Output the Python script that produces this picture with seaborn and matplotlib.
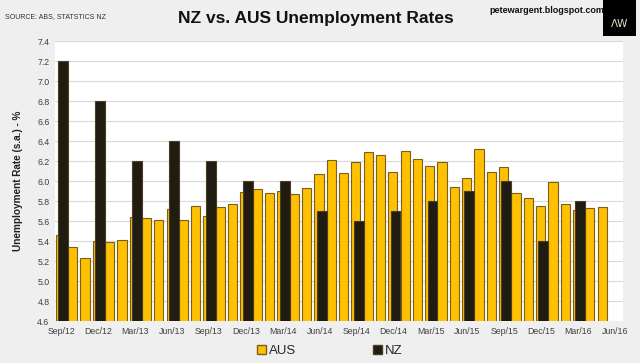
import numpy as np
import pandas as pd
import matplotlib
matplotlib.use("Agg")
import matplotlib.pyplot as plt
from matplotlib.patches import Patch, Rectangle
import seaborn as sns

# monthly AUS rate, Sep/12 .. May/16
aus_rates = [5.46, 5.34, 5.23, 5.40,
             5.39, 5.41, 5.64, 5.63, 5.61, 5.72, 5.61, 5.75, 5.65, 5.74, 5.77, 5.89,
             5.92, 5.88, 5.90, 5.87, 5.93, 6.07, 6.21, 6.08, 6.19, 6.29, 6.26, 6.09,
             6.30, 6.22, 6.15, 6.19, 5.94, 6.03, 6.32, 6.09, 6.14, 5.88, 5.83, 5.75,
             5.99, 5.77, 5.71, 5.73, 5.74]
# quarterly NZ rate, Sep/12 .. Mar/16
nz_rates = [7.2, 6.8, 6.2, 6.4, 6.2, 6.0, 6.0, 5.7, 5.6, 5.7, 5.8, 5.9, 6.0, 5.4, 5.8]
tick_labels = ["Sep/12", "Dec/12", "Mar/13", "Jun/13", "Sep/13", "Dec/13", "Mar/14",
               "Jun/14", "Sep/14", "Dec/14", "Mar/15", "Jun/15", "Sep/15", "Dec/15",
               "Mar/16", "Jun/16"]
y_ticks = np.arange(4.6, 7.41, 0.2)

AUS_COL = "#FFC000"
NZ_COL = "#201c12"
BG = "#efefef"
FONT = ["Liberation Sans Narrow", "Liberation Sans", "DejaVu Sans"]

aus = pd.DataFrame({"month": np.arange(len(aus_rates)) + 0.43, "rate": aus_rates})
nz = pd.DataFrame({"month": np.arange(len(nz_rates)) * 3 + 0.65, "rate": nz_rates})

sns.set_style("white")
plt.rcParams["font.family"] = FONT

fig = plt.figure(figsize=(6.4, 3.63), dpi=100, facecolor=BG)
ax = fig.add_axes([0.086, 0.1157, 0.887, 0.7713])
ax.set_facecolor("white")

sns.barplot(data=aus, x="month", y="rate", native_scale=True, width=0.75,
            color=AUS_COL, saturation=1, edgecolor="#7a6020", linewidth=0.8,
            errorbar=None, ax=ax, zorder=2)
sns.barplot(data=nz, x="month", y="rate", native_scale=True, width=0.8 / 3,
            color=NZ_COL, saturation=1, edgecolor="#4a3f22", linewidth=0.8,
            errorbar=None, ax=ax, zorder=3)

ax.set_xlim(0, 46.1)
ax.set_ylim(4.6, 7.4)
ax.set_yticks(y_ticks)
ax.set_yticklabels([f"{v:.1f}" for v in y_ticks], fontsize=6.3, color="#404040")
ax.set_xticks(np.arange(len(tick_labels)) * 3 + 0.5)
ax.set_xticklabels(tick_labels, fontsize=6.3, color="#404040")
ax.tick_params(length=0, pad=4)
ax.yaxis.grid(True, color="#d9d9d9", linewidth=0.8, zorder=0)
ax.set_axisbelow(True)
for s in ax.spines.values():
    s.set_visible(False)
ax.set_xlabel("")
ax.set_ylabel("Unemployment Rate (s.a.) - %", fontsize=7.2, fontweight="bold",
              color="#202020", labelpad=10)

fig.text(0.494, 0.948, "NZ vs. AUS Unemployment Rates", ha="center", va="center",
         fontsize=12.5, fontweight="bold", color="#111111")
fig.text(0.008, 0.955, "SOURCE: ABS, STATSTICS NZ", ha="left", va="center",
         fontsize=5, color="#303030")
fig.text(0.854, 0.972, "petewargent.blogspot.com", ha="center", va="center",
         fontsize=6.5, fontweight="bold", color="#111111")
fig.patches.append(Rectangle((0.942, 0.9), 0.052, 0.1, transform=fig.transFigure,
                             facecolor="black", edgecolor="none"))
fig.text(0.968, 0.935, "ΛW", ha="center", va="center", fontsize=7.5,
         color="#e8e0c8", family="DejaVu Sans")

handles = [Patch(facecolor=AUS_COL, edgecolor="#7a6020", label="AUS"),
           Patch(facecolor=NZ_COL, edgecolor="#4a3f22", label="NZ")]
fig.legend(handles=handles, loc="center", bbox_to_anchor=(0.515, 0.033), ncol=2,
           frameon=False, fontsize=9.5, handlelength=0.7, handleheight=0.7,
           handletextpad=0.2, columnspacing=5.8)

fig.savefig("out.png", dpi=100, facecolor=BG)
